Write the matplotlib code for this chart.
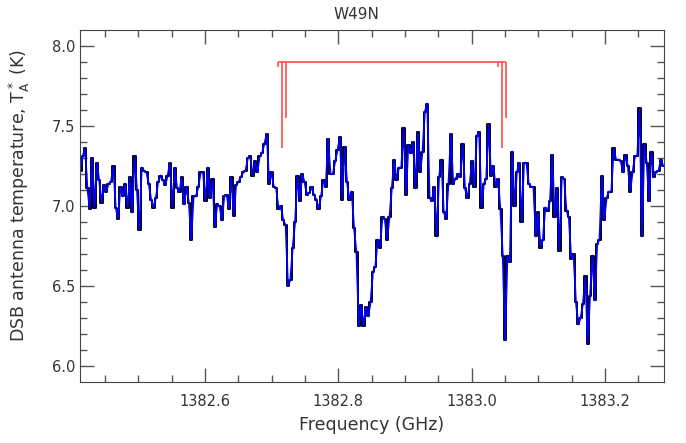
import numpy as np
from matplotlib import pyplot as plt

# antenna temperature per channel (K) left to right
temperature = [
    7.22, 7.31, 7.36, 7.11, 6.98, 7.30, 6.99, 7.27, 7.16, 7.02,
    7.13, 7.09, 7.14, 7.15, 7.25, 6.99, 6.92, 7.12, 7.06, 7.14,
    6.99, 7.18, 6.96, 7.31, 7.10, 6.85, 7.24, 7.22, 7.21, 7.14,
    7.04, 6.99, 7.05, 7.15, 7.19, 7.16, 7.13, 7.19, 7.27, 6.99,
    7.24, 7.11, 7.09, 7.18, 7.01, 7.12, 7.02, 6.79, 7.06, 7.06,
    7.12, 7.21, 7.21,
    7.03, 7.24, 7.05, 7.17, 6.87, 7.01, 7.00, 6.91, 7.06, 7.07,
    6.98, 7.18, 6.94, 7.13, 7.15, 7.18, 7.21, 7.22, 7.30, 7.31,
    7.19, 7.28, 7.21, 7.31, 7.33, 7.39, 7.45, 7.14, 7.21, 7.12,
    7.11, 6.98, 7.00, 6.91, 6.88, 6.50, 6.54, 6.74, 6.90, 7.19,
    7.03, 7.20, 7.15, 7.07, 7.08, 7.12, 7.07, 7.04, 6.98,
    7.06, 7.16, 7.12, 7.42, 7.20, 7.20, 7.28, 7.35, 7.43, 7.04,
    7.37, 7.15, 7.04, 7.09, 6.86, 6.71, 6.25, 6.38, 6.25, 6.37,
    6.31, 6.40, 6.59, 6.62, 6.79, 6.74, 6.93, 6.92, 6.79, 6.93,
    7.11, 7.29, 7.16, 7.24, 7.24, 7.49, 7.07, 7.38, 7.33, 7.40,
    7.11, 7.46, 7.21, 7.34, 7.59, 7.64,
    7.05, 7.03, 7.12, 6.81, 7.18, 7.29, 6.96, 6.92, 7.14, 7.45,
    7.14, 7.17, 7.20, 7.18, 7.39, 7.11, 7.05, 7.14, 7.28, 7.12,
    7.44, 7.46, 6.99, 7.14, 7.17, 7.51, 7.19, 7.25, 7.12, 7.17,
    6.98, 6.69, 6.16, 6.69, 6.65, 7.34, 7.00, 7.21, 7.27, 6.90,
    7.27, 7.27, 7.14, 7.12, 7.12, 6.81, 6.96, 6.74, 6.79,
    6.99, 6.97, 7.03, 7.32, 6.93, 7.11, 6.72, 7.18, 7.17, 6.97,
    6.93, 6.67, 6.70, 6.40, 6.26, 6.30, 6.39, 6.56, 6.14, 6.44,
    6.69, 6.41, 6.76, 6.79, 7.19, 6.91, 7.05, 7.09, 7.09, 7.36,
    7.29, 7.29, 7.28, 7.21, 7.32, 7.25, 7.09, 7.21, 7.31, 7.31,
    7.61, 6.81, 7.39, 7.27, 7.03, 7.34, 7.18, 7.21, 7.22, 7.29,
    7.25,
]
f_start = 1382.413      # GHz, first channel
chan_width = 0.00354    # GHz

# hyperfine components (red markers)
hf_freq = [1382.710, 1382.715, 1382.721, 1383.040, 1383.045, 1383.051]
hf_low = [7.87, 7.36, 7.55, 7.87, 7.36, 7.55]
hf_top = 7.90


def main():
    freq = f_start + chan_width * np.arange(len(temperature))

    fig = plt.figure(figsize=(6.86, 4.43), dpi=100)
    ax = fig.add_axes([0.1166, 0.1377, 0.8513, 0.7946])

    ax.plot(freq, temperature, color='black', lw=1.4, drawstyle='steps-mid')
    ax.plot(freq, temperature, color='#0000ff', lw=1.3)

    ax.vlines(hf_freq, hf_low, hf_top, color='#ff4d4d', lw=1.2)
    ax.hlines(hf_top, hf_freq[0], hf_freq[-1], color='#ff4d4d', lw=1.2)

    ax.set_xlim(1382.4125, 1383.2885)
    ax.set_ylim(5.9, 8.1)
    ax.set_xticks([1382.6, 1382.8, 1383.0, 1383.2])
    ax.set_xticks(np.arange(1382.45, 1383.29, 0.05), minor=True)
    ax.set_yticks([6.0, 6.5, 7.0, 7.5, 8.0])
    ax.set_yticks(np.arange(6.0, 8.05, 0.1), minor=True)
    ax.xaxis.set_major_formatter(plt.FormatStrFormatter('%.1f'))
    ax.yaxis.set_major_formatter(plt.FormatStrFormatter('%.1f'))

    ax.tick_params(which='both', direction='in', top=True, right=True,
                   color='#555555', labelsize=10.5, labelcolor='#333333')
    ax.tick_params(which='major', length=10, width=1)
    ax.tick_params(which='minor', length=5, width=1)
    ax.tick_params(axis='x', pad=9)
    for s in ax.spines.values():
        s.set_color('#444444')

    ax.set_xlabel('Frequency (GHz)', fontsize=12.5, color='#333333')
    ax.xaxis.set_label_coords(0.5, -0.097)
    ax.set_ylabel(r'DSB antenna temperature, T$_\mathrm{A}^*$ (K)',
                  fontsize=12.5, color='#333333')
    ax.yaxis.set_label_coords(-0.082, 0.531)
    ax.set_title('W49N', fontsize=11, color='#333333', x=0.473, pad=8)

    fig.savefig('out.png', dpi=100)


if __name__ == "__main__":
    main()
